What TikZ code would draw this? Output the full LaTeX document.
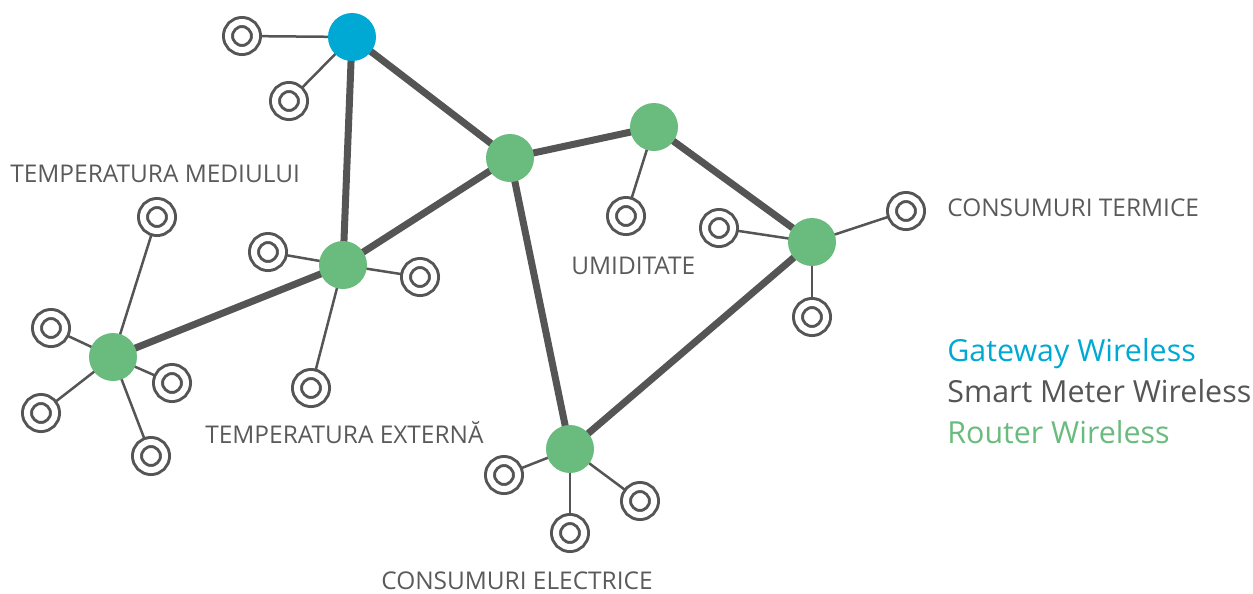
\documentclass[tikz,border=0pt]{standalone}
\usepackage{fontspec}
\setmainfont{Open Sans}
\usetikzlibrary{backgrounds}
\definecolor{gwblue}{HTML}{00A9D4}
\definecolor{rtgreen}{HTML}{69BB7E}
\definecolor{linkgray}{HTML}{555555}
\definecolor{textgray}{HTML}{5A5A5A}
\begin{document}
\begin{tikzpicture}[x=0.02cm, y=-0.02cm,
    gateway/.style={circle, fill=gwblue, minimum size=0.96cm, inner sep=0},
    router/.style={circle, fill=rtgreen, minimum size=0.96cm, inner sep=0},
    meter/.style={circle, draw=linkgray, fill=white, line width=0.06cm, double=white, double distance=0.12cm, minimum size=0.56cm, inner sep=0},
    backbone/.style={linkgray, line width=0.14cm},
    spur/.style={linkgray, line width=0.05cm},
    lbl/.style={anchor=base west, inner sep=0, text depth=0pt, text=textgray, font=\fontsize{13.9}{16}\selectfont},
    legend/.style={anchor=base west, inner sep=0, font=\fontsize{17.3}{20}\selectfont}]
    \useasboundingbox (0,0) rectangle (1253,593);

    % Gateway and routers
    \node[gateway] (gw) at (352,37) {};
    \node[router] (r1) at (510,158) {};
    \node[router] (r2) at (654,127) {};
    \node[router] (r3) at (812,242) {};
    \node[router] (r4) at (343,265) {};
    \node[router] (r5) at (113,357) {};
    \node[router] (r6) at (570,449) {};

    % Smart meters
    \node[meter] (g1) at (242,36) {};
    \node[meter] (g2) at (289,101) {};
    \node[meter] (m41) at (268,252) {};
    \node[meter] (m42) at (420,277) {};
    \node[meter] (m43) at (311,388) {};
    \node[meter] (m51) at (157,217) {};
    \node[meter] (m52) at (51,328) {};
    \node[meter] (m53) at (172,383) {};
    \node[meter] (m54) at (41,413) {};
    \node[meter] (m55) at (151,456) {};
    \node[meter] (m21) at (626,216) {};
    \node[meter] (m31) at (719,228) {};
    \node[meter] (m32) at (906,211) {};
    \node[meter] (m33) at (812,317) {};
    \node[meter] (m61) at (504,475) {};
    \node[meter] (m62) at (640,501) {};
    \node[meter] (m63) at (570,533) {};

    \begin{scope}[on background layer]
        % Backbone links
        \draw[backbone] (gw.center) -- (r1.center);
        \draw[backbone] (gw.center) -- (r4.center);
        \draw[backbone] (r1.center) -- (r2.center);
        \draw[backbone] (r1.center) -- (r4.center);
        \draw[backbone] (r1.center) -- (r6.center);
        \draw[backbone] (r2.center) -- (r3.center);
        \draw[backbone] (r3.center) -- (r6.center);
        \draw[backbone] (r4.center) -- (r5.center);

        % Meter links
        \draw[spur] (gw.center) -- (g1);
        \draw[spur] (gw.center) -- (g2);
        \foreach \m in {m41,m42,m43} \draw[spur] (r4.center) -- (\m);
        \foreach \m in {m51,m52,m53,m54,m55} \draw[spur] (r5.center) -- (\m);
        \draw[spur] (r2.center) -- (m21);
        \foreach \m in {m31,m32,m33} \draw[spur] (r3.center) -- (\m);
        \foreach \m in {m61,m62,m63} \draw[spur] (r6.center) -- (\m);
    \end{scope}

    % Labels
    \node[lbl] (tmed) at (10,182) {TEMPERATURA MEDIULUI};
    \node[lbl] (text) at (205,443) {TEMPERATURA EXTERNĂ};
    \node[lbl] (umid) at (571,274) {UMIDITATE};
    \node[lbl] (cterm) at (947,216) {CONSUMURI TERMICE};
    \node[lbl] (celec) at (381,589) {CONSUMURI ELECTRICE};

    % Legend
    \node[legend, text=gwblue] (leggw) at (947,361) {Gateway Wireless};
    \node[legend, text=linkgray] (legsm) at (947,402) {Smart Meter Wireless};
    \node[legend, text=rtgreen] (legrt) at (947,443) {Router Wireless};
\end{tikzpicture}
\end{document}
